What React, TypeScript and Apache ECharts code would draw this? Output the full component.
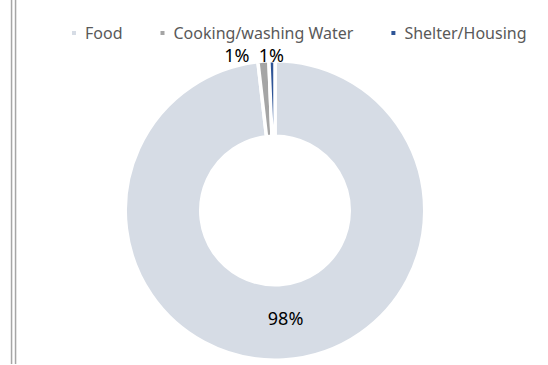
import React, { useEffect, useRef } from "react";
import * as echarts from "echarts";

const categories = ["Food", "Cooking/washing Water", "Shelter/Housing"];
const values = [98.18, 1.17, 0.65];
const colors = ["#d6dce5", "#a5a5a5", "#2f5597"];
const labelOffsets = [
  [4, -7],
  [-9, -6],
  [17, -6],
];

export default function App() {
  const ref = useRef<HTMLDivElement>(null);
  useEffect(() => {
    document.body.style.margin = "0";
    const chart = echarts.init(ref.current!, undefined, { renderer: "svg" });
    chart.setOption({
      animation: false,
      backgroundColor: "#ffffff",
      color: colors,
      legend: {
        left: 65,
        top: 20,
        itemWidth: 6,
        itemHeight: 6,
        itemGap: 36,
        icon: "rect",
        textStyle: { fontFamily: "Noto Sans", fontSize: 16, color: "#595959", padding: [0, 0, 0, 3] },
        data: categories,
      },
      graphic: [
        { type: "rect", shape: { x: 10.8, y: 0, width: 1.5, height: 364 }, style: { fill: "#a6a6a6" } },
        { type: "rect", shape: { x: 14.8, y: 0, width: 1.5, height: 364 }, style: { fill: "#a6a6a6" } },
      ],
      series: [
        {
          type: "pie",
          center: [275, 210.5],
          radius: [74.25, 149.75],
          startAngle: 90,
          clockwise: true,
          avoidLabelOverlap: false,
          itemStyle: { borderColor: "#ffffff", borderWidth: 3.5 },
          label: {
            show: true,
            fontFamily: "Noto Sans",
            fontSize: 18,
            color: "#000000",
            formatter: (p: any) => Math.round(p.percent) + "%",
          },
          labelLine: { show: false, length: 0, length2: 0 },
          emphasis: { disabled: true },
          labelLayout: (p: any) => {
            const o = labelOffsets[p.dataIndex];
            return { dx: o[0], dy: o[1] };
          },
          data: categories.map((c, i) => ({
            name: c,
            value: values[i],
            label: { position: i === 0 ? "inside" : "outside" },
          })),
        },
      ],
    });
    return () => chart.dispose();
  }, []);
  return <div ref={ref} style={{ width: 548, height: 365 }} />;
}
